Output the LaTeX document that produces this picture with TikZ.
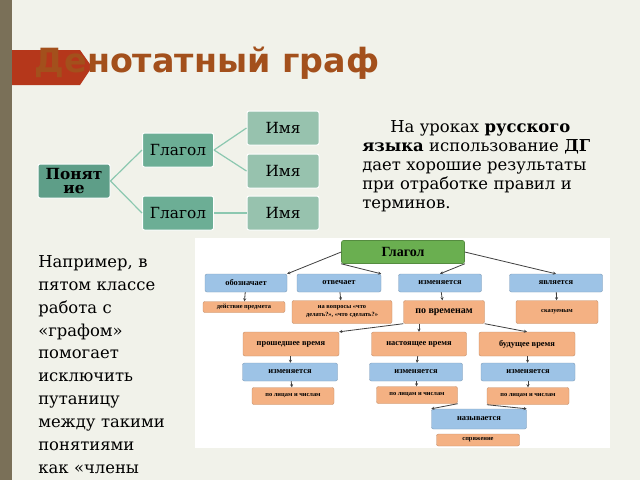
\documentclass[tikz,border=0pt]{standalone}
\usepackage{fontspec}
\setmainfont{DejaVu Serif}
\newfontfamily\titlefont{DejaVu Sans}
\newfontfamily\picfont{Liberation Serif}
\usetikzlibrary{arrows.meta}
\newdimen\pu \pu=0.75pt
\definecolor{bg}{HTML}{F1F2EA}
\definecolor{barbrown}{HTML}{7A7058}
\definecolor{banner}{HTML}{B5371B}
\definecolor{titlec}{HTML}{A3501C}
\definecolor{darkgreen}{HTML}{5E9E88}
\definecolor{midgreen}{HTML}{6CAE95}
\definecolor{lightgreen}{HTML}{97C2AE}
\definecolor{linegreen}{HTML}{8CC8B0}
\definecolor{boxblue}{HTML}{9DC3E6}
\definecolor{boxorange}{HTML}{F4B183}
\definecolor{boxgreen}{HTML}{6AAF50}
\tikzset{
  tbox/.style={rounded corners=2\pu, text=black, inner sep=0pt, align=center},
  concept/.style={tbox, fill=darkgreen, draw=white, line width=1\pu, font=\bfseries\fontsize{11.5}{10}\selectfont},
  verb/.style={tbox, fill=midgreen, draw=white, line width=1\pu, font=\fontsize{11.5}{12}\selectfont},
  noun/.style={tbox, fill=lightgreen, draw=white, line width=1\pu, font=\fontsize{11.5}{12}\selectfont},
  link/.style={linegreen, line width=1.2\pu},
  bluebox/.style={tbox, fill=boxblue, draw=boxblue!80!black, line width=0.3pt, font=\picfont\bfseries\fontsize{6.3}{7}\selectfont},
  orangebox/.style={tbox, fill=boxorange, draw=boxorange!80!black, line width=0.3pt, font=\picfont\bfseries\fontsize{4.8}{6}\selectfont},
  arr/.style={-{Stealth[length=2.3pt,width=2.3pt]}, black!75, line width=0.6pt}
}
\begin{document}
\begin{tikzpicture}[x=1\pu, y=-1\pu]
  \useasboundingbox (0,0) rectangle (640,480);
  \clip (0,0) rectangle (640,480);
  % фон
  \fill[bg] (0,0) rectangle (640,480);
  \fill[barbrown] (0,0) rectangle (12,480);
  \fill[banner] (12,50) -- (80,50) -- (92,67) -- (80,85) -- (12,85) -- cycle;
  \node[anchor=west, text=titlec, font=\titlefont\bfseries\fontsize{25}{25}\selectfont] (title) at (30,63) {Денотатный граф};

  % граф слева
  \node[concept, minimum width=72\pu, minimum height=34\pu] (concept) at (74,181) {Понят\\ие};
  \node[verb, minimum width=71\pu, minimum height=34\pu] (verb1) at (178,150) {Глагол};
  \node[verb, minimum width=71\pu, minimum height=34\pu] (verb2) at (178,213) {Глагол};
  \node[noun, minimum width=72\pu, minimum height=34\pu] (noun1) at (283,128) {Имя};
  \node[noun, minimum width=72\pu, minimum height=34\pu] (noun2) at (283,171) {Имя};
  \node[noun, minimum width=72\pu, minimum height=34\pu] (noun3) at (283,213) {Имя};
  \draw[link] (concept.east) -- (verb1.west);
  \draw[link] (concept.east) -- (verb2.west);
  \draw[link] (verb1.east) -- (noun1.west);
  \draw[link] (verb1.east) -- (noun2.west);
  \draw[link] (verb2.east) -- (noun3.west);

  % тексты
  \node[anchor=north west, inner sep=0pt, text width=180pt, align=left, font=\fontsize{12.3}{14.3}\selectfont] (lesson) at (362,120)
    {\hspace*{21pt}На уроках \textbf{русского языка} использование \textbf{ДГ} дает хорошие результаты при отработке правил и терминов.};
  \node[anchor=north west, inner sep=0pt, text width=121pt, align=left, font=\fontsize{12.3}{17.2}\selectfont] (example) at (38,255)
    {Например, в пятом классе работа с «графом» помогает исключить путаницу между такими понятиями как «члены предложения» и};

  % рисунок
  \fill[white] (195,238) rectangle (610,448);
  \node[tbox, fill=boxgreen, draw=boxgreen!80!black, minimum width=123\pu, minimum height=23\pu, font=\picfont\bfseries\fontsize{10.5}{11}\selectfont] (verb) at (403,252) {Глагол};
  \node[bluebox, minimum width=82\pu, minimum height=18\pu] (means) at (246,283) {обозначает};
  \node[bluebox, minimum width=84\pu, minimum height=18\pu] (answers) at (339,283) {отвечает};
  \node[bluebox, minimum width=83\pu, minimum height=18\pu] (changes) at (440,283) {изменяется};
  \node[bluebox, minimum width=93\pu, minimum height=18\pu] (is) at (556,283) {является};
  \node[orangebox, minimum width=82\pu, minimum height=11\pu] (action) at (244,307) {действие предмета};
  \node[orangebox, minimum width=100\pu, minimum height=23\pu] (questions) at (342,312) {на вопросы «что\\делать?», «что сделать?»};
  \node[orangebox, minimum width=81\pu, minimum height=23\pu, font=\picfont\bfseries\fontsize{7.5}{8}\selectfont] (tenses) at (444,312) {по временам};
  \node[orangebox, minimum width=82\pu, minimum height=23\pu] (predicate) at (557,312) {сказуемым};
  \node[orangebox, minimum width=96\pu, minimum height=24\pu, font=\picfont\bfseries\fontsize{6.3}{7}\selectfont] (past) at (291,344) {прошедшее время};
  \node[orangebox, minimum width=95\pu, minimum height=24\pu, font=\picfont\bfseries\fontsize{6.3}{7}\selectfont] (present) at (419,344) {настоящее время};
  \node[orangebox, minimum width=96\pu, minimum height=24\pu, font=\picfont\bfseries\fontsize{6.3}{7}\selectfont] (future) at (527,344) {будущее время};
  \node[bluebox, minimum width=95\pu, minimum height=18\pu] (changes1) at (290,372) {изменяется};
  \node[bluebox, minimum width=93\pu, minimum height=18\pu] (changes2) at (416,372) {изменяется};
  \node[bluebox, minimum width=94\pu, minimum height=18\pu] (changes3) at (528,372) {изменяется};
  \node[orangebox, minimum width=82\pu, minimum height=17\pu] (persons1) at (293,396) {по лицам и числам};
  \node[orangebox, minimum width=81\pu, minimum height=17\pu] (persons2) at (417,395) {по лицам и числам};
  \node[orangebox, minimum width=82\pu, minimum height=17\pu] (persons3) at (528,396) {по лицам и числам};
  \node[bluebox, minimum width=95\pu, minimum height=20\pu] (called) at (479,419) {называется};
  \node[orangebox, minimum width=83\pu, minimum height=12\pu] (conj) at (478,440) {спряжение};
  \draw[arr] (verb.west) -- (means.north east);
  \draw[arr] (verb.south west) -- (answers.north east);
  \draw[arr] (verb.south east) -- (changes.north);
  \draw[arr] (verb.east) -- (is.north);
  \draw[arr] (means) -- (action);
  \draw[arr] (answers) -- (questions);
  \draw[arr] (changes) -- (tenses);
  \draw[arr] (is) -- (predicate);
  \draw[arr] (tenses.south west) -- (past.north east);
  \draw[arr] (tenses.south west -| present.north) -- (present.north);
  \draw[arr] (tenses.south east) -- (future.north);
  \draw[arr] (past) -- (changes1);
  \draw[arr] (present) -- (changes2);
  \draw[arr] (future) -- (changes3);
  \draw[arr] (changes1) -- (persons1);
  \draw[arr] (changes2) -- (persons2);
  \draw[arr] (changes3) -- (persons3);
  \draw[arr] (persons2.south east) -- (called.north west);
  \draw[arr] (persons3.south west) -- (called.north east);
\end{tikzpicture}
\end{document}
